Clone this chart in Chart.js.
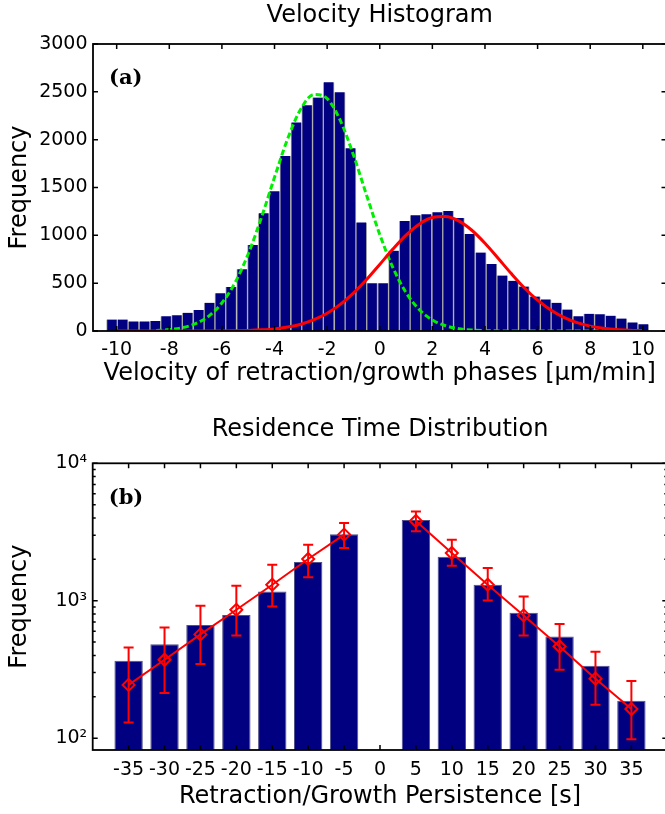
<!DOCTYPE html>
<html>
<head>
<meta charset="utf-8">
<script src="https://cdn.jsdelivr.net/npm/chart.js@4.4.0/dist/chart.umd.min.js"></script>
<style>
  body { margin: 0; background: #fff; overflow: hidden; }
  canvas { position: absolute; left: 0; }
</style>
</head>
<body>
<canvas id="velocity" width="680" height="405" style="top:0"></canvas>
<canvas id="residence" width="680" height="409" style="top:405px"></canvas>
<script>
// (a) velocity histogram: bin centres and counts
const velocityBins = [-10.18, -9.77, -9.36, -8.94, -8.53, -8.12, -7.71, -7.3, -6.88, -6.47,
  -6.06, -5.65, -5.23, -4.82, -4.41, -4.0, -3.59, -3.17, -2.76, -2.35,
  -1.94, -1.52, -1.11, -0.7, -0.29, 0.13, 0.54, 0.95, 1.36, 1.77,
  2.19, 2.6, 3.01, 3.42, 3.84, 4.25, 4.66, 5.07, 5.48, 5.9,
  6.31, 6.72, 7.13, 7.55, 7.96, 8.37, 8.78, 9.19, 9.61, 10.02];
const velocityCounts = [120, 120, 100, 100, 105, 155, 165, 190, 220, 295,
  395, 460, 645, 900, 1230, 1460, 1830, 2180, 2360, 2440,
  2600, 2495, 1910, 1135, 500, 500, 840, 1150, 1210, 1220,
  1240, 1255, 1180, 1015, 820, 700, 580, 525, 465, 360,
  330, 295, 225, 155, 180, 175, 160, 130, 90, 70];

// fitted curves
const fitX = [-10, -9.5, -9, -8.5, -8, -7.5, -7, -6.5, -6, -5.5, -5, -4.5, -4, -3.5, -3, -2.5, -2, -1.5, -1, -0.5,
  0, 0.5, 1, 1.5, 2, 2.5, 3, 3.5, 4, 4.5, 5, 5.5, 6, 6.5, 7, 7.5, 8, 8.5, 9, 9.5, 10];
const retractionFit = [null, null, null, 5, 15, 35, 77, 156, 293, 505, 805, 1184, 1607, 2010, 2321, 2472, 2429, 2201, 1840, 1419,
  1009, 662, 401, 224, 115, 55, 24, 10, 4, 1, 0, 0, 0, 0, 0, 0, 0, 0, null, null, null];
const growthFit = [0, 0, 0, 0, 0, 0, 0, 1, 1, 3, 6, 12, 22, 41, 71, 118, 185, 278, 396, 538,
  696, 856, 1002, 1117, 1186, 1197, 1151, 1053, 917, 760, 600, 450, 322, 219, 142, 87, 51, 29, 15, 8, 4];

const velocityTicks = [-10, -8, -6, -4, -2, 0, 2, 4, 6, 8, 10];
const countTicks = [0, 500, 1000, 1500, 2000, 2500, 3000];

// (b) residence time distribution
const persistX = [-35, -30, -25, -20, -15, -10, -5, 5, 10, 15, 20, 25, 30, 35];
const persistCounts = [366, 483, 665, 787, 1169, 1914, 3040, 3871, 2090, 1308, 818, 549, 336, 187];
const persistFit = [244, 372, 569, 859, 1308, 2013, 3027, 3805, 2224, 1308, 782, 465, 271, 163];
const errLow = [130, 213, 346, 559, 908, 1479, 2422, 3199, 1799, 1005, 559, 314, 175, 98];
const errHigh = [457, 639, 920, 1285, 1829, 2558, 3682, 4466, 2780, 1730, 1075, 676, 425, 261];

const persistTicks = [-35, -30, -25, -20, -15, -10, -5, 0, 5, 10, 15, 20, 25, 30, 35];
const logTicks = [100, 1000, 10000];
const logTickLabels = ['10²', '10³', '10⁴'];
const logMinor = [200, 300, 400, 500, 600, 700, 800, 900, 2000, 3000, 4000, 5000, 6000, 7000, 8000, 9000];

Chart.defaults.font.family = "'DejaVu Sans', sans-serif";
Chart.defaults.color = '#000';

// matlab style box with inward ticks on all sides
const boxTicks = {
  id: 'boxTicks',
  afterDraw(chart, args, opts) {
    const { ctx, chartArea: a } = chart;
    const x = chart.scales.x, y = chart.scales.y;
    ctx.save();
    ctx.strokeStyle = '#000';
    ctx.lineWidth = 1.5;
    ctx.beginPath();
    opts.xTicks.forEach(v => {
      const px = x.getPixelForValue(v);
      ctx.moveTo(px, a.bottom); ctx.lineTo(px, a.bottom - 5);
      ctx.moveTo(px, a.top); ctx.lineTo(px, a.top + 5);
    });
    opts.yTicks.forEach(v => {
      const py = y.getPixelForValue(v);
      ctx.moveTo(a.left, py); ctx.lineTo(a.left + 5, py);
      ctx.moveTo(a.right, py); ctx.lineTo(a.right - 5, py);
    });
    (opts.yMinor || []).forEach(v => {
      const py = y.getPixelForValue(v);
      ctx.moveTo(a.left, py); ctx.lineTo(a.left + 3, py);
      ctx.moveTo(a.right, py); ctx.lineTo(a.right - 3, py);
    });
    ctx.stroke();
    ctx.lineWidth = 1.8;
    ctx.strokeRect(a.left, a.top, a.right - a.left, a.bottom - a.top);
    ctx.font = 'bold 21px "DejaVu Serif"';
    ctx.fillStyle = '#000';
    ctx.textBaseline = 'middle';
    ctx.fillText(opts.label, a.left + 16, a.top + 35);
    ctx.restore();
  }
};

const errorBars = {
  id: 'errorBars',
  afterDatasetsDraw(chart, args, opts) {
    if (!opts.xs) return;
    const { ctx } = chart;
    const x = chart.scales.x, y = chart.scales.y;
    ctx.save();
    ctx.strokeStyle = '#ff0000';
    ctx.lineWidth = 2;
    ctx.beginPath();
    opts.xs.forEach((v, i) => {
      const px = x.getPixelForValue(v);
      const lo = y.getPixelForValue(opts.lo[i]);
      const hi = y.getPixelForValue(opts.hi[i]);
      ctx.moveTo(px, lo); ctx.lineTo(px, hi);
      ctx.moveTo(px - 5, lo); ctx.lineTo(px + 5, lo);
      ctx.moveTo(px - 5, hi); ctx.lineTo(px + 5, hi);
    });
    ctx.stroke();
    ctx.restore();
  }
};

Chart.register(boxTicks, errorBars);

const tickFont = { size: 19 };
const titleFont = { size: 24, weight: 'normal' };

new Chart(document.getElementById('velocity'), {
  type: 'bar',
  data: {
    datasets: [
      {
        type: 'line',
        data: fitX.map((x, i) => ({ x, y: growthFit[i] })),
        borderColor: '#ff0000',
        borderWidth: 3,
        pointRadius: 0,
        cubicInterpolationMode: 'monotone',
        order: 0
      },
      {
        type: 'line',
        data: fitX.map((x, i) => ({ x, y: retractionFit[i] })),
        borderColor: '#00ee00',
        borderWidth: 3,
        borderDash: [6, 3],
        pointRadius: 0,
        cubicInterpolationMode: 'monotone',
        order: 1
      },
      {
        type: 'bar',
        data: velocityBins.map((x, i) => ({ x, y: velocityCounts[i] })),
        backgroundColor: '#000080',
        borderColor: '#a8a8a8',
        borderWidth: { left: 1, right: 1, top: 0, bottom: 0 },
        borderSkipped: false,
        barPercentage: 1,
        categoryPercentage: 1,
        order: 2
      }
    ]
  },
  options: {
    responsive: false,
    animation: false,
    layout: { padding: { left: 0, top: 0, right: 13.5, bottom: 0 } },
    plugins: {
      legend: { display: false },
      tooltip: { enabled: false },
      title: {
        display: true, text: 'Velocity Histogram', fullSize: false,
        font: titleFont, color: '#000', padding: { top: 1, bottom: 14.2 }
      },
      boxTicks: { xTicks: velocityTicks, yTicks: countTicks, label: '(a)' },
      errorBars: {}
    },
    scales: {
      x: {
        type: 'linear', min: -10.9, max: 10.9, offset: false,
        grid: { display: false, drawTicks: false },
        border: { display: false },
        afterBuildTicks: s => { s.ticks = velocityTicks.map(v => ({ value: v })); },
        ticks: { font: tickFont, color: '#000', padding: 7.6, maxRotation: 0, autoSkip: false, callback: v => String(v) },
        title: {
          display: true, text: 'Velocity of retraction/growth phases [μm/min]',
          font: titleFont, color: '#000', padding: { top: 0, bottom: 16.6 }
        },
        afterFit: s => { s.height = 74; }
      },
      y: {
        min: 0, max: 3000,
        grid: { display: false, drawTicks: false },
        border: { display: false },
        afterBuildTicks: s => { s.ticks = countTicks.map(v => ({ value: v })); },
        ticks: { font: tickFont, color: '#000', padding: 5.5, callback: v => String(v) },
        title: {
          display: true, text: 'Frequency',
          font: titleFont, color: '#000', padding: { top: 5.6, bottom: 0 }
        },
        afterFit: s => { s.width = 93; }
      }
    }
  }
});

// line through the fit points, broken at 0
const fitPoints = persistX.map((x, i) => ({ x, y: persistFit[i] }));
fitPoints.splice(7, 0, { x: 0, y: null });

new Chart(document.getElementById('residence'), {
  type: 'bar',
  data: {
    datasets: [
      {
        type: 'line',
        data: fitPoints,
        borderColor: '#ff0000',
        borderWidth: 2,
        pointStyle: 'rectRot',
        pointRadius: 6,
        pointBorderWidth: 2,
        pointBackgroundColor: 'rgba(0,0,0,0)',
        pointBorderColor: '#ff0000',
        spanGaps: false,
        order: 0
      },
      {
        type: 'bar',
        data: persistX.map((x, i) => ({ x, y: persistCounts[i] })),
        backgroundColor: '#000080',
        borderColor: '#50508a',
        borderWidth: 1,
        borderSkipped: 'start',
        barPercentage: 0.79,
        categoryPercentage: 1,
        order: 2
      }
    ]
  },
  options: {
    responsive: false,
    animation: false,
    layout: { padding: { left: 0, top: 0, right: 12.7, bottom: 0 } },
    plugins: {
      legend: { display: false },
      tooltip: { enabled: false },
      title: {
        display: true, text: 'Residence Time Distribution', fullSize: false,
        font: titleFont, color: '#000', padding: { top: 10.6, bottom: 18.9 }
      },
      boxTicks: { xTicks: persistTicks, yTicks: logTicks, yMinor: logMinor, label: '(b)' },
      errorBars: { xs: persistX, lo: errLow, hi: errHigh }
    },
    scales: {
      x: {
        type: 'linear', min: -40, max: 40, offset: false,
        grid: { display: false, drawTicks: false },
        border: { display: false },
        afterBuildTicks: s => { s.ticks = persistTicks.map(v => ({ value: v })); },
        ticks: { font: tickFont, color: '#000', padding: 8.6, maxRotation: 0, autoSkip: false, callback: v => String(v) },
        title: {
          display: true, text: 'Retraction/Growth Persistence [s]',
          font: titleFont, color: '#000', padding: { top: 0, bottom: 2.6 }
        },
        afterFit: s => { s.height = 64; }
      },
      y: {
        type: 'logarithmic', min: 82, max: 10000,
        grid: { display: false, drawTicks: false },
        border: { display: false },
        afterBuildTicks: s => { s.ticks = logTicks.map(v => ({ value: v })); },
        ticks: {
          font: tickFont, color: '#000', padding: 5.5,
          callback: v => logTickLabels[logTicks.indexOf(v)]
        },
        title: {
          display: true, text: 'Frequency',
          font: titleFont, color: '#000', padding: { top: 5.6, bottom: 0 }
        },
        afterFit: s => { s.width = 92.7; }
      }
    }
  }
});
</script>
</body>
</html>
